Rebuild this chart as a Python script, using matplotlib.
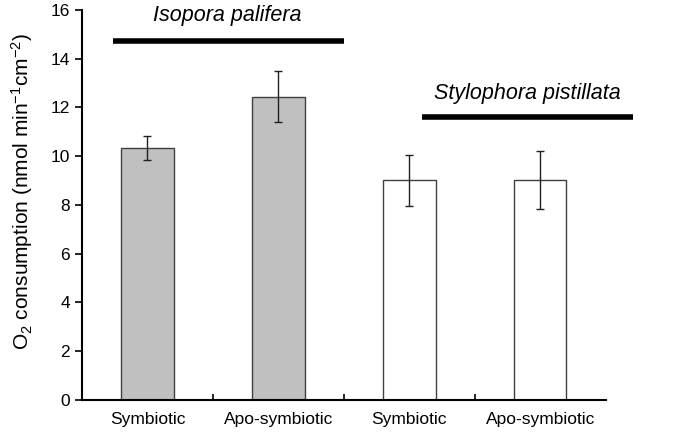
import matplotlib.pyplot as plt
import numpy as np

plt.rcParams["font.family"] = ["Liberation Sans", "DejaVu Sans"]
plt.rcParams["mathtext.fontset"] = "custom"
plt.rcParams["mathtext.rm"] = "Liberation Sans"
plt.rcParams["mathtext.it"] = "Liberation Sans:italic"

# --- data -----------------------------------------------------------------
CATEGORIES = ["Symbiotic", "Apo-symbiotic", "Symbiotic", "Apo-symbiotic"]
MEANS = [10.35, 12.45, 9.02, 9.02]
ERRORS = [0.5, 1.05, 1.05, 1.2]
FILLS = ["#c0c0c0", "#c0c0c0", "white", "white"]
SPECIES = ["Isopora palifera", "Stylophora pistillata"]

fig = plt.figure(figsize=(6.86, 4.36), dpi=100)
ax = fig.add_axes([0.1195, 0.0826, 0.7635, 0.8945])

x = np.arange(len(CATEGORIES))
ax.bar(x, MEANS, width=0.4, color=FILLS, edgecolor="#404040", linewidth=1.0, zorder=2)
ax.errorbar(x, MEANS, yerr=ERRORS, fmt="none", ecolor="#202020", elinewidth=1.0,
            capsize=3, capthick=1.0, zorder=3)

# species brackets + names
ax.plot([-0.26, 1.5], [14.73, 14.73], color="black", lw=4, solid_capstyle="butt",
        clip_on=False)
ax.text(0.61, 15.78, SPECIES[0], style="italic", fontsize=15.5, ha="center", va="center")
ax.plot([2.10, 3.71], [11.6, 11.6], color="black", lw=4, solid_capstyle="butt",
        clip_on=False)
ax.text(2.9, 12.58, SPECIES[1], style="italic", fontsize=15.5, ha="center", va="center")

ax.set_xlim(-0.5, 3.5)
ax.set_ylim(0, 16)
ax.set_yticks(np.arange(0, 17, 2))
ax.set_xticks(x)
ax.set_xticklabels(CATEGORIES, fontsize=12.5)
ax.tick_params(axis="x", length=0, pad=9)
ax.set_xticks([0.5, 1.5, 2.5], minor=True)
ax.tick_params(axis="x", which="minor", direction="in", length=4, width=1.2)
ax.tick_params(axis="y", direction="out", length=5, width=1.2, labelsize=12.5)
ax.spines["top"].set_visible(False)
ax.spines["right"].set_visible(False)
ax.spines["left"].set_linewidth(1.5)
ax.spines["bottom"].set_linewidth(1.5)
ax.set_ylabel("O$_2$ consumption (nmol min$^{-1}$cm$^{-2}$)", fontsize=15)
ax.yaxis.set_label_coords(-0.09, 0.535)

fig.savefig("out.png", dpi=100)
